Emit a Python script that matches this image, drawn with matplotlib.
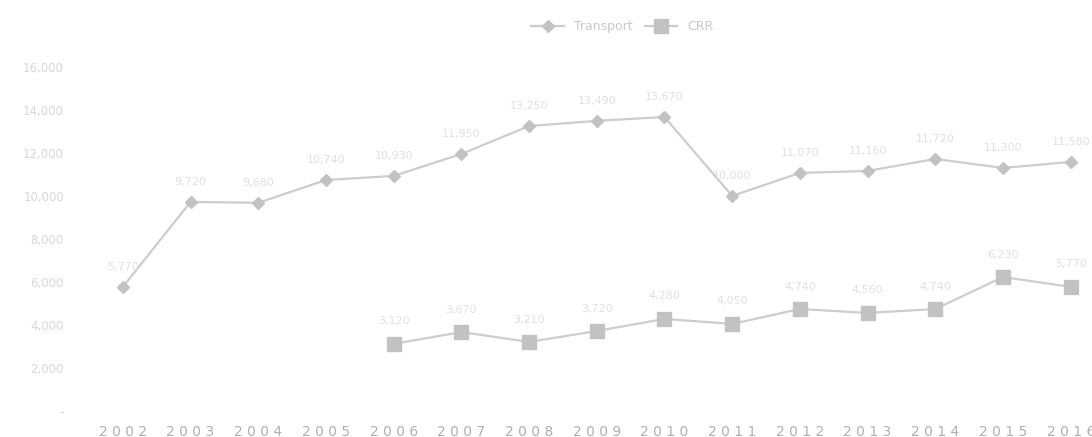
import matplotlib.pyplot as plt
from matplotlib.ticker import FuncFormatter

years = [str(y) for y in range(2002, 2017)]
transport = [5770, 9720, 9680, 10740, 10930, 11950, 13250, 13490, 13670,
             10000, 11070, 11160, 11720, 11300, 11580]
crr_years = years[4:]
crr = [3120, 3670, 3210, 3720, 4280, 4050, 4740, 4560, 4740, 6230, 5770]

line_col = "#cdcdcd"
marker_col = "#c2c2c2"
text_col = "#d8d8d8"

fig = plt.figure(figsize=(10.92, 4.37), dpi=100)
ax = fig.add_axes([0.0815, 0.0595, 0.93, 0.7875])

x_t = list(range(len(years)))
x_c = [years.index(y) for y in crr_years]

ax.plot(x_t, transport, color=line_col, lw=1.6, marker="D", ms=6,
        mfc=marker_col, mec=marker_col, label="Transport")
ax.plot(x_c, crr, color=line_col, lw=1.6, marker="s", ms=10,
        mfc=marker_col, mec=marker_col, label="CRR")

for xi, v in zip(x_t, transport):
    ax.annotate(f"{v:,}", (xi, v), xytext=(0, 12), textcoords="offset points",
                ha="center", fontsize=8, color="#e0e0e0")
for xi, v in zip(x_c, crr):
    ax.annotate(f"{v:,}", (xi, v), xytext=(0, 14), textcoords="offset points",
                ha="center", fontsize=8, color="#e0e0e0")

ax.set_xlim(-0.5, len(years) - 0.5)
ax.set_ylim(0, 16000)
ax.set_yticks(range(0, 16001, 2000))
ax.yaxis.set_major_formatter(FuncFormatter(lambda v, _: "-" if v == 0 else f"{int(v):,}"))
ax.set_xticks(x_t)
ax.set_xticklabels([" ".join(y) for y in years], fontsize=10, color="#b0b0b0")
ax.tick_params(axis="y", labelsize=8.5, labelcolor=text_col, length=0, pad=18)
ax.tick_params(axis="x", length=0, pad=10)
for s in ax.spines.values():
    s.set_visible(False)

fig.legend(loc="upper center", bbox_to_anchor=(0.57, 0.98), ncol=2, frameon=False,
           fontsize=9, labelcolor="#c8c8c8", handlelength=2.6, columnspacing=1.0)

fig.savefig("out.png", dpi=100)
